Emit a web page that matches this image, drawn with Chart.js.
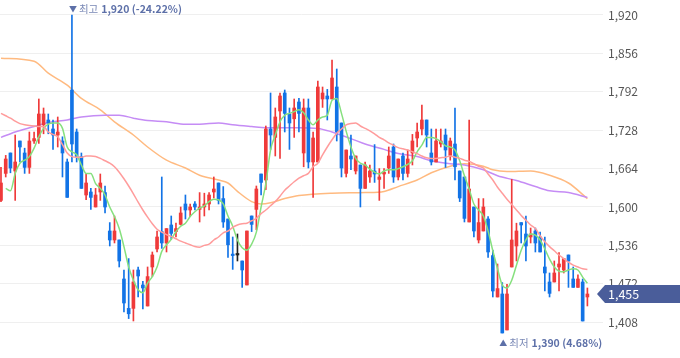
<!DOCTYPE html>
<html><head><meta charset="utf-8">
<script src="https://cdn.jsdelivr.net/npm/chart.js@4/dist/chart.umd.min.js"></script>
<style>html,body{margin:0;padding:0;background:#fff;overflow:hidden}#wrap{width:680px;height:358px;position:relative}</style>
</head><body><div id="wrap"><canvas id="c" width="680" height="358"></canvas></div>
<script>
// ---- Data (daily candles, oldest -> newest) ----
const opens = [1611,1656,1690,1660,1710,1690,1666,1710,1716,1737,
1745,1730,1720,1710,1675,1795,1725,1684,1620,1625,
1600,1625,1624,1560,1545,1545,1480,1431,1431,1495,
1470,1435,1500,1530,1559,1540,1570,1559,1571,1605,
1595,1605,1596,1600,1605,1625,1640,1614,1580,1520,
1520,1510,1470,1585,1596,1655,1645,1730,1716,1760,
1790,1755,1747,1775,1690,1765,1675,1675,1780,1785,
1780,1800,1740,1656,1685,1660,1670,1631,1650,1660,
1646,1655,1665,1700,1650,1685,1656,1690,1715,1730,
1745,1690,1675,1705,1720,1686,1705,1660,1650,1575,
1600,1545,1560,1580,1519,1450,1455,1395,1500,1535,
1574,1555,1550,1560,1550,1500,1475,1475,1500,1495,
1520,1480,1466,1475,1450];
const highs = [1666,1686,1690,1720,1710,1698,1725,1725,1780,1765,
1755,1745,1750,1717,1680,1920,1730,1690,1656,1631,
1631,1655,1635,1574,1585,1545,1495,1514,1495,1500,
1476,1500,1525,1560,1650,1564,1585,1573,1600,1620,
1605,1609,1624,1623,1624,1650,1640,1634,1580,1550,
1555,1510,1560,1585,1635,1655,1735,1790,1765,1790,
1795,1765,1780,1781,1780,1780,1725,1810,1800,1796,
1845,1830,1740,1695,1720,1685,1670,1675,1670,1704,
1664,1664,1700,1705,1680,1690,1695,1721,1740,1770,
1745,1730,1730,1730,1730,1715,1765,1660,1650,1745,
1600,1614,1614,1584,1528,1505,1474,1471,1646,1573,
1574,1585,1565,1565,1558,1550,1490,1510,1524,1514,
1520,1500,1487,1480,1465];
const lows = [1609,1650,1657,1611,1675,1656,1656,1706,1706,1722,
1722,1696,1700,1650,1616,1675,1675,1631,1612,1596,
1600,1611,1590,1535,1540,1500,1425,1414,1410,1450,
1430,1435,1484,1525,1531,1525,1546,1550,1570,1580,
1584,1595,1575,1585,1595,1615,1605,1566,1516,1496,
1510,1466,1470,1559,1562,1620,1629,1696,1685,1681,
1725,1696,1716,1725,1667,1665,1616,1675,1766,1745,
1780,1710,1650,1650,1662,1655,1600,1631,1641,1641,
1611,1631,1656,1641,1645,1645,1650,1670,1700,1720,
1700,1670,1675,1700,1666,1678,1645,1609,1575,1575,
1550,1540,1560,1516,1450,1450,1390,1395,1500,1510,
1540,1510,1540,1525,1525,1460,1450,1475,1460,1490,
1466,1466,1466,1410,1435];
const closes = [1640,1680,1665,1675,1700,1666,1710,1714,1755,1755,
1740,1720,1725,1690,1616,1705,1684,1631,1640,1616,
1620,1640,1600,1545,1560,1510,1440,1422,1475,1485,
1465,1484,1520,1550,1540,1564,1556,1564,1590,1595,
1600,1600,1600,1605,1620,1630,1611,1575,1537,1519,
1520,1495,1560,1571,1630,1641,1730,1720,1750,1785,
1756,1740,1765,1756,1765,1675,1715,1800,1790,1780,
1815,1725,1665,1695,1680,1685,1631,1670,1660,1655,
1650,1658,1685,1650,1680,1656,1680,1710,1725,1745,
1720,1675,1710,1710,1695,1710,1667,1615,1581,1630,
1560,1574,1600,1525,1460,1464,1390,1455,1545,1560,
1570,1535,1555,1540,1525,1490,1456,1490,1505,1514,
1510,1466,1480,1410,1455];

// moving averages (aligned to candles)
const ma5 = [null,1631,1627,1656,1673,1678,1684,1698,1717,1731,
1738,1740,1740,1731,1700,1692,1687,1670,1656,1656,
1639,1631,1620,1600,1584,1564,1534,1500,1478,1462,
1457,1473,1484,1500,1526,1537,1546,1559,1568,1573,
1584,1592,1598,1602,1609,1613,1612,1605,1585,1568,
1545,1532,1528,1538,1558,1600,1639,1695,1720,1742,
1753,1756,1759,1762,1757,1745,1737,1745,1750,1753,
1778,1781,1756,1726,1700,1681,1673,1670,1663,1658,
1655,1660,1662,1662,1664,1667,1671,1677,1692,1703,
1716,1716,1714,1709,1702,1700,1695,1677,1652,1630,
1605,1595,1585,1560,1527,1497,1470,1465,1478,1503,
1528,1545,1555,1553,1545,1530,1513,1500,1493,1492,
1495,1497,1495,1483,1473];
const ma20 = [1756,1752,1748,1743,1739,1737,1736,1735,1734,1734,
1725,1721,1717,1704,1690,1684,1683,1683,1685,1685,
1684,1681,1677,1673,1667,1658,1647,1635,1622,1608,
1595,1583,1572,1563,1558,1554,1551,1547,1543,1540,
1537,1534,1533,1536,1538,1545,1550,1557,1560,1566,
1570,1572,1573,1577,1581,1589,1595,1602,1609,1618,
1628,1635,1642,1648,1652,1656,1667,1673,1687,1700,
1712,1723,1730,1737,1739,1740,1735,1731,1727,1722,
1716,1712,1707,1703,1699,1697,1695,1692,1689,1685,
1682,1681,1681,1682,1683,1685,1683,1681,1678,1676,
1672,1668,1665,1655,1645,1633,1623,1613,1604,1595,
1586,1578,1570,1564,1552,1542,1534,1527,1520,1514,
1508,1503,1500,1497,1496];
const ma60At = [0,7,10,14,17,21,24,28,31,35,39,42,46,48,50,53,55,57,60,63,70,77,81,84,88,91,95,98,102,104,107,112,116,120,124];
const ma60 = [1848,1843,1823,1803,1781,1762,1742,1720,1700,1678,1665,1653,1645,1640,1626,1609,1605,1607,1614,1619,1623,1624,1626,1634,1645,1657,1668,1672,1668,1662,1659,1660,1653,1640,1614];
const ma120At = [0,3,7,10,14,17,22,25,28,31,35,39,42,46,49,53,56,63,67,70,74,77,81,84,88,91,95,98,102,105,109,113,116,120,124];
const ma120 = [1716,1725,1734,1741,1745,1750,1753,1753,1748,1744,1742,1738,1738,1740,1737,1734,1732,1732,1731,1725,1714,1705,1696,1689,1684,1677,1672,1670,1662,1652,1644,1634,1627,1624,1616];

const yTicks = [1408,1472,1536,1600,1664,1728,1792,1856,1920];

// ---- styling ----
const UP = '#ef3a3a', DOWN = '#1273e6', FLAT = '#222222';
const FONT = '"Noto Sans CJK KR","Noto Sans",sans-serif';
const fmt = v => Math.round(v).toLocaleString('en-US');

const idx = closes.map((_, i) => i);
const candleColor = idx.map(i => closes[i] > opens[i] ? UP : (closes[i] < opens[i] ? DOWN : FLAT));

const wicks = idx.map(i => ({x: i, y: [lows[i], highs[i]]}));
const bodies = idx.map(i => ({x: i, y: [Math.min(opens[i], closes[i]), Math.max(opens[i], closes[i])]}));
const pairs = (xs, ys) => xs.map((x, k) => ({x: x, y: ys[k]}));

const overlay = {
  id: 'overlay',
  afterDraw(chart) {
    const ctx = chart.ctx, xs = chart.scales.x, ys = chart.scales.y, ca = chart.chartArea;
    const last = closes[closes.length - 1];
    const hi = Math.max(...highs), hiI = highs.indexOf(hi);
    const lo = Math.min(...lows), loI = lows.indexOf(lo);
    const pct = v => ((last - v) / v * 100).toFixed(2) + '%';
    const label = (x, y, arrow, word, num) => {
      ctx.save();
      ctx.textBaseline = 'middle';
      ctx.fillStyle = '#5d70a8';
      ctx.font = '8px ' + FONT;
      ctx.fillText(arrow, x, y);
      let cx = x + ctx.measureText(arrow).width + 2;
      ctx.font = '10.5px ' + FONT;
      ctx.fillStyle = '#7a89b6';
      ctx.fillText(word, cx, y);
      cx += ctx.measureText(word).width + 3;
      ctx.font = 'bold 10.5px ' + FONT;
      ctx.fillStyle = '#5d70a8';
      ctx.fillText(num, cx, y);
      ctx.restore();
    };
    label(xs.getPixelForValue(hiI) - 3, ys.getPixelForValue(hi) - 6, '▼', '최고', fmt(hi) + ' (' + pct(hi) + ')');
    label(xs.getPixelForValue(loI) - 3, ys.getPixelForValue(lo) + 10, '▲', '최저', fmt(lo) + ' (' + pct(lo) + ')');
    // current price tag
    const py = ys.getPixelForValue(last);
    const x0 = ca.right - 6;
    ctx.save();
    ctx.fillStyle = '#4a5d9a';
    ctx.beginPath();
    ctx.moveTo(x0, py);
    ctx.lineTo(x0 + 8, py - 9);
    ctx.lineTo(chart.width, py - 9);
    ctx.lineTo(chart.width, py + 9);
    ctx.lineTo(x0 + 8, py + 9);
    ctx.closePath();
    ctx.fill();
    ctx.fillStyle = '#ffffff';
    ctx.font = '12.5px ' + FONT;
    ctx.textBaseline = 'middle';
    ctx.fillText(fmt(last), ca.right + 5, py + 0.5);
    ctx.restore();
  }
};

const lineDs = (data, color, order) => ({
  type: 'line', data: data, borderColor: color, borderWidth: 1.5, pointRadius: 0,
  cubicInterpolationMode: 'monotone', spanGaps: true, order: order
});

new Chart(document.getElementById('c'), {
  type: 'bar',
  data: {
    datasets: [
      lineDs(pairs(ma120At, ma120), '#c58cf5', 4),
      lineDs(pairs(ma60At, ma60), '#ffba80', 4),
      lineDs(pairs(idx, ma20), '#ff9c9c', 0),
      lineDs(pairs(idx, ma5), '#86e07e', 0),
      {type: 'bar', data: wicks, backgroundColor: candleColor, barThickness: 1, grouped: false, borderWidth: 0, order: 2},
      {type: 'bar', data: bodies, backgroundColor: candleColor, barThickness: 3, grouped: false, borderWidth: 0, minBarLength: 1.5, order: 1}
    ]
  },
  options: {
    responsive: false, animation: false,
    layout: {padding: 0},
    plugins: {legend: {display: false}, tooltip: {enabled: false}},
    scales: {
      x: {type: 'linear', min: -0.21, max: 127.3, offset: false, display: false, grid: {offset: false}},
      y: {
        position: 'right', min: 1348.3, max: 1945,
        afterBuildTicks: s => { s.ticks = yTicks.map(v => ({value: v})); },
        afterFit: s => { s.width = 77; s.paddingTop = 0; s.paddingBottom = 0; },
        grid: {color: '#efefef', drawTicks: false},
        border: {display: false},
        ticks: {padding: 5, color: '#555555', font: {family: FONT, size: 12}, callback: v => fmt(v)}
      }
    }
  },
  plugins: [overlay]
});
</script>
</body></html>
